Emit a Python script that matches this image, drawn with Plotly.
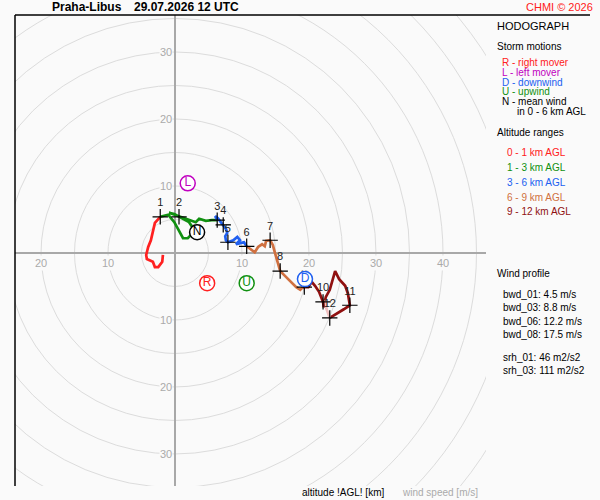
import plotly.graph_objects as go

station = "Praha-Libus"
run_time = "29.07.2026 12 UTC"

# hodograph by altitude range, wind components in m/s (u east, v north)
u_0_1 = [-1.8, -1.9, -2.5, -3.0, -3.3, -4.2, -4.3, -4.0, -3.6, -3.3, -3.0, -2.2]
v_0_1 = [-0.3, -1.3, -2.1, -2.1, -1.3, -0.9, -0.3, 0.9, 1.9, 3.4, 4.5, 5.4]
u_1_3 = [-2.2, -1.0, -0.1, 0.6, 1.2, 1.9, 2.7, 2.7, 2.1, 1.0, -0.1, -0.9, 0.6, 1.9, 3.1, 3.6, 4.6, 5.5, 6.3]
v_1_3 = [5.4, 5.7, 4.6, 3.3, 2.2, 2.2, 3.0, 3.7, 4.6, 5.2, 5.8, 6.0, 5.5, 5.1, 4.6, 5.1, 4.8, 4.9, 4.9]
u_3_6 = [6.3, 6.0, 6.4, 6.9, 7.2, 7.6, 7.8, 7.5, 7.6, 7.9, 8.7, 9.3, 9.7, 9.1, 9.9, 10.3, 10.7]
v_3_6 = [4.9, 5.5, 5.2, 4.6, 4.2, 3.6, 3.0, 2.5, 1.9, 1.6, 1.9, 2.4, 1.9, 1.3, 1.5, 1.6, 1.0]
u_6_9 = [10.7, 11.5, 11.9, 12.4, 13.0, 13.4, 13.6, 14.2, 14.6, 14.9, 15.2, 15.7, 16.3, 17.2, 18.1, 18.7, 19.1]
v_6_9 = [1.0, 0.4, 0.1, 0.9, 1.3, 1.0, 1.8, 1.9, 1.2, 0.1, -1.0, -2.7, -3.3, -4.2, -5.1, -5.5, -5.1]
u_9_12 = [19.1, 19.9, 20.4, 20.9, 21.5, 21.9, 22.1, 22.2, 22.5, 23.1, 23.9, 24.5, 25.4, 25.8, 26.1, 25.2, 24.3, 23.1]
v_9_12 = [-5.1, -5.1, -4.3, -4.9, -5.8, -6.9, -7.3, -8.1, -6.6, -5.5, -2.7, -3.9, -4.9, -6.0, -7.8, -8.4, -9.0, -9.7]
u_12_up = [23.1, 22.6, 22.5]
v_12_up = [-9.7, -8.3, -7.0]

# wind at whole km heights
km_labels = ["1", "2", "3", "4", "5", "6", "7", "8", "9", "10", "11", "12"]
km_u = [-2.2, 0.6, 6.3, 7.2, 7.9, 10.7, 14.2, 15.7, 19.3, 22.1, 26.1, 23.1]
km_v = [5.4, 5.4, 4.9, 4.2, 1.6, 1.0, 1.9, -2.7, -5.1, -7.3, -7.8, -9.7]

# storm motions
storm_labels = ["R", "L", "D", "U", "N"]
storm_u = [4.8, 1.9, 19.4, 10.7, 3.3]
storm_v = [-4.5, 10.4, -3.9, -4.5, 3.1]
storm_colors = ["#ff2020", "#c000c0", "#2060f0", "#109010", "black"]

ring_radii = [5, 10, 15, 20, 25, 30, 35, 40, 45, 50, 55]
ring_labels_x = [-20, -10, 10, 20, 30, 40]
ring_labels_y = [-30, -20, -10, 10, 20, 30]

layer_names = ["0 - 1 km AGL", "1 - 3 km AGL", "3 - 6 km AGL", "6 - 9 km AGL", "9 - 12 km AGL"]
layer_colors = ["#ff2020", "#109010", "#2060f0", "#d07040", "#901010"]

wind_profile = ["bwd_01: 4.5 m/s", "bwd_03: 8.8 m/s", "bwd_06: 12.2 m/s", "bwd_08: 17.5 m/s",
                "srh_01: 46 m2/s2", "srh_03: 111 m2/s2"]

FONT = "Liberation Sans, Arial, sans-serif"
BG = "#fafafa"

fig = go.Figure()

segments = [(u_0_1, v_0_1), (u_1_3, v_1_3), (u_3_6, v_3_6), (u_6_9, v_6_9), (u_9_12, v_9_12)]
for (u, v), col in zip(segments, layer_colors):
    fig.add_trace(go.Scatter(x=u, y=v, mode="lines", line=dict(color=col, width=2.7),
                             hoverinfo="skip"))
fig.add_trace(go.Scatter(x=u_12_up, y=v_12_up, mode="lines",
                         line=dict(color="#f0c0c0", width=2.7), hoverinfo="skip"))

fig.add_trace(go.Scatter(
    x=km_u, y=km_v, mode="markers+text", text=km_labels, textposition="top center",
    textfont=dict(family=FONT, size=11, color="#222"),
    marker=dict(symbol="cross-thin", size=11, line=dict(color="black", width=1.2)),
    hoverinfo="skip"))

fig.add_trace(go.Scatter(
    x=storm_u, y=storm_v, mode="markers+text", text=storm_labels, textposition="middle center",
    textfont=dict(family=FONT, size=12, color=storm_colors),
    marker=dict(symbol="circle", size=15, color="white",
                line=dict(color=storm_colors, width=1.5)),
    hoverinfo="skip"))

for r in ring_radii:
    fig.add_shape(type="circle", xref="x", yref="y", x0=-r, x1=r, y0=-r, y1=r,
                  line=dict(color="#dcdcdc", width=1), layer="below")

ann = []
for val in ring_labels_x:
    ann.append(dict(x=val, y=0, xref="x", yref="y", text=str(abs(val)), showarrow=False,
                    yshift=-10, font=dict(family=FONT, size=11, color="#aaa"), bgcolor=BG))
for val in ring_labels_y:
    ann.append(dict(x=0, y=val, xref="x", yref="y", text=str(abs(val)), showarrow=False,
                    xanchor="right", xshift=-2, font=dict(family=FONT, size=11, color="#aaa"),
                    bgcolor=BG, borderpad=0))


def text(px, py, s, color="black", size=10, anchor="left", bold=False):
    if bold:
        s = "<b>" + s + "</b>"
    ann.append(dict(x=px / 600, y=1 - py / 500, xref="paper", yref="paper", text=s,
                    showarrow=False, xanchor=anchor, yanchor="middle",
                    font=dict(family=FONT, size=size, color=color)))


text(50, 7, station, size=12, bold=True)
text(132, 7, run_time, size=12, bold=True)
text(595, 7, "CHMI © 2026", color="#ff2020", size=11, anchor="right")
text(495, 26, "HODOGRAPH", size=11)
text(495, 47, "Storm motions")
motion_text = ["R - right mover", "L - left mover", "D - downwind", "U - upwind", "N - mean wind"]
for i, (s, c) in enumerate(zip(motion_text, storm_colors)):
    text(500, 62 + 10 * i, s, color=c)
text(515, 112, "in 0 - 6 km AGL")
text(495, 132, "Altitude ranges")
for i, (s, c) in enumerate(zip(layer_names, layer_colors)):
    text(505, 152 + 15 * i, s, color=c)
text(495, 273, "Wind profile")
for i, s in enumerate(wind_profile):
    text(501, 294 + 13.5 * i + (9 if i > 3 else 0), s)
text(300, 492, "altitude !AGL! [km]")
text(400, 492, "wind speed [m/s]", color="#aaa")

# frame: top and left lines
fig.add_shape(type="line", xref="paper", yref="paper", x0=15 / 600, x1=590 / 600,
              y0=1 - 15 / 500, y1=1 - 15 / 500, line=dict(color="black", width=1.5))
fig.add_shape(type="line", xref="paper", yref="paper", x0=15 / 600, x1=15 / 600,
              y0=1 - 15 / 500, y1=1 - 486 / 500, line=dict(color="black", width=1.5))

fig.update_layout(
    width=600, height=500, margin=dict(l=0, r=0, t=0, b=0),
    paper_bgcolor=BG, plot_bgcolor=BG, showlegend=False,
    annotations=ann,
    xaxis=dict(domain=[15 / 600, 486 / 600], range=[-23.88, 46.42], showgrid=False,
               showticklabels=False, ticks="", zeroline=True, zerolinecolor="#a8a8a8",
               zerolinewidth=1.5),
    yaxis=dict(domain=[1 - 486 / 500, 1 - 15 / 500], range=[-34.78, 35.52], showgrid=False,
               showticklabels=False, ticks="", zeroline=True, zerolinecolor="#a8a8a8",
               zerolinewidth=1.5),
)

fig.write_html("out.html", config={"displayModeBar": False},
               post_script="document.body.style.margin='0';")
